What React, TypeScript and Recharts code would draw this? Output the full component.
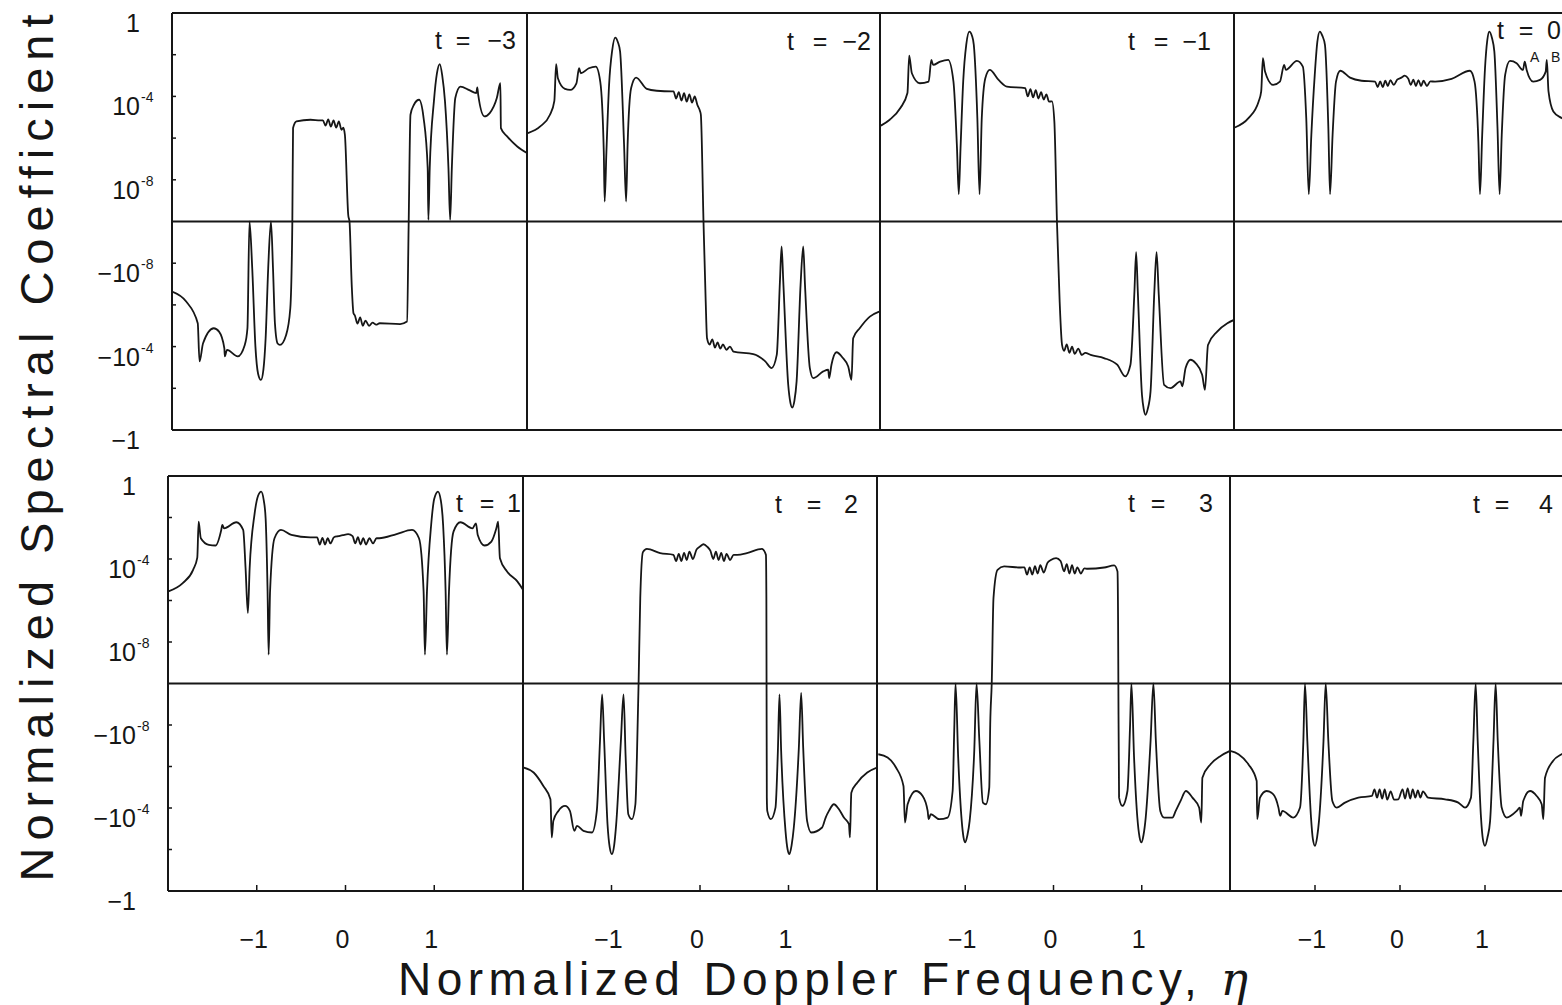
import React from "react";
import { Line, LineChart, ReferenceLine, XAxis, YAxis } from "recharts";

// y is a signed log scale: s = sign(c) * (10 + log10|c|), so s = ±10 is ±1, ±6 is ±1e-4,
// ±2 is ±1e-8 and the centre line (s = 0) is |c| <= 1e-10.
const INK = "#161616";
const FONT = "'Liberation Sans Narrow', 'Liberation Sans', Arial, sans-serif";

const T_M3 = [
  [-2.0, -3.36], [-1.84, -3.84], [-1.71, -4.88], [-1.69, -6.71], [-1.65, -5.84], [-1.53, -5.12], [-1.47, -5.28],
  [-1.41, -6.08], [-1.405, -6.47], [-1.38, -6.16], [-1.26, -6.47], [-1.18, -5.92], [-1.15, -5.12], [-1.127, 0],
  [-1.096, -2.24], [-1.06, -6.0], [-1.03, -7.3], [-0.998, -7.6], [-0.97, -7.1], [-0.945, -5.6], [-0.916, -2.24],
  [-0.885, 0], [-0.862, -2.24], [-0.84, -4.9], [-0.81, -5.85], [-0.784, -5.92], [-0.714, -5.44], [-0.667, -4.16],
  [-0.644, 0], [-0.636, 4.48], [-0.598, 4.8], [-0.44, 4.88], [-0.33, 4.85], [-0.3, 4.85], [-0.27, 4.6], [-0.24, 4.9],
  [-0.21, 4.55], [-0.18, 4.85], [-0.15, 4.5], [-0.12, 4.8], [-0.09, 4.4], [-0.07, 4.5], [-0.052, 4.16],
  [-0.014, 0.3], [0, 0], [0.025, -3.04], [0.045, -4.4], [0.06, -4.5], [0.09, -4.9], [0.12, -4.6], [0.15, -5.0],
  [0.18, -4.75], [0.22, -5.0], [0.26, -4.85], [0.3, -4.95], [0.34, -4.88], [0.57, -4.92], [0.648, -4.8],
  [0.667, 0], [0.687, 5.12], [0.726, 5.6], [0.784, 5.84], [0.835, 4.96], [0.881, 2.56], [0.889, 0.08], [0.904, 2.56],
  [0.951, 5.76], [0.985, 7.1], [1.017, 7.55], [1.045, 7.0], [1.076, 5.76], [1.115, 2.56], [1.134, 0.08],
  [1.153, 2.56], [1.192, 5.92], [1.25, 6.47], [1.35, 6.3], [1.428, 6.16], [1.44, 6.43], [1.45, 6.08], [1.52, 5.04],
  [1.58, 5.2], [1.66, 5.92], [1.7, 6.63], [1.706, 4.48], [1.776, 4.08], [1.89, 3.6], [2.0, 3.28],
];

const T_M2 = [
  [-1.99, 4.24], [-1.85, 4.56], [-1.74, 5.12], [-1.69, 5.79], [-1.67, 7.55], [-1.65, 6.87], [-1.57, 6.36],
  [-1.51, 6.31], [-1.44, 6.63], [-1.41, 7.35], [-1.39, 7.11], [-1.3, 7.35], [-1.22, 7.43], [-1.17, 6.71],
  [-1.13, 3.36], [-1.12, 0.96], [-1.1, 3.36], [-1.07, 6.55], [-1.035, 8.2], [-1.0, 8.82], [-0.97, 8.6],
  [-0.945, 8.15], [-0.9, 3.68], [-0.877, 0.96], [-0.86, 3.68], [-0.82, 6.4], [-0.764, 6.9], [-0.643, 6.36],
  [-0.53, 6.27], [-0.36, 6.24], [-0.34, 6.24], [-0.31, 5.9], [-0.28, 6.2], [-0.25, 5.8], [-0.22, 6.15],
  [-0.19, 5.75], [-0.16, 6.1], [-0.13, 5.7], [-0.1, 6.0], [-0.07, 5.6], [-0.04, 5.3], [-0.03, 5.12], [0, 0],
  [0.025, -3.84], [0.04, -5.6], [0.07, -5.9], [0.1, -5.65], [0.13, -6.05], [0.16, -5.8], [0.19, -6.1], [0.22, -5.9],
  [0.26, -6.15], [0.3, -6.0], [0.34, -6.24], [0.564, -6.36], [0.7, -6.71], [0.772, -7.03], [0.83, -6.4],
  [0.866, -2.88], [0.885, -1.2], [0.904, -2.88], [0.96, -7.83], [0.985, -8.7], [1.005, -8.92], [1.03, -8.6],
  [1.055, -7.67], [1.1, -3.04], [1.13, -1.2], [1.15, -3.04], [1.205, -7.03], [1.243, -7.51], [1.357, -7.19],
  [1.413, -7.11], [1.424, -7.51], [1.45, -6.87], [1.507, -6.27], [1.58, -6.55], [1.64, -6.95], [1.677, -7.59],
  [1.696, -5.6], [1.77, -5.12], [1.885, -4.56], [1.99, -4.32],
];

const T_M1 = [
  [-1.99, 4.6], [-1.89, 4.88], [-1.77, 5.44], [-1.69, 6.16], [-1.67, 7.96], [-1.64, 7.11], [-1.55, 6.63],
  [-1.45, 6.71], [-1.42, 7.75], [-1.4, 7.51], [-1.32, 7.67], [-1.23, 7.75], [-1.17, 6.71], [-1.13, 3.52],
  [-1.11, 1.31], [-1.09, 3.52], [-1.06, 6.71], [-1.025, 8.5], [-0.99, 9.11], [-0.96, 8.9], [-0.94, 8.47],
  [-0.9, 4.96], [-0.875, 1.31], [-0.85, 4.96], [-0.81, 6.87], [-0.76, 7.27], [-0.66, 6.79], [-0.566, 6.47],
  [-0.36, 6.4], [-0.33, 6.0], [-0.3, 6.35], [-0.27, 5.95], [-0.24, 6.3], [-0.21, 5.9], [-0.18, 6.2], [-0.15, 5.85],
  [-0.12, 6.1], [-0.09, 5.75], [-0.057, 5.76], [-0.03, 4.8], [0, -0.08], [0.03, -3.84], [0.057, -5.92], [0.08, -6.2],
  [0.11, -5.9], [0.14, -6.3], [0.17, -6.0], [0.2, -6.35], [0.24, -6.1], [0.28, -6.4], [0.32, -6.3], [0.38, -6.4],
  [0.53, -6.55], [0.68, -6.87], [0.77, -7.43], [0.83, -6.87], [0.875, -3.36], [0.894, -1.47], [0.913, -3.36],
  [0.96, -8.31], [0.98, -9.0], [1.0, -9.27], [1.025, -9.0], [1.057, -8.15], [1.1, -3.36], [1.125, -1.47],
  [1.15, -3.52], [1.21, -7.83], [1.283, -7.99], [1.396, -7.67], [1.415, -7.91], [1.453, -7.03], [1.51, -6.63],
  [1.566, -6.79], [1.64, -7.35], [1.672, -8.07], [1.706, -5.92], [1.81, -5.28], [1.925, -4.88], [2.0, -4.72],
];

const T_0 = [
  [-1.99, 4.51], [-1.83, 4.96], [-1.71, 5.76], [-1.68, 6.24], [-1.66, 7.83], [-1.635, 7.19], [-1.54, 6.55],
  [-1.46, 6.71], [-1.41, 7.51], [-1.39, 7.27], [-1.26, 7.7], [-1.19, 7.43], [-1.15, 4.96], [-1.12, 1.31],
  [-1.09, 4.16], [-1.05, 7.03], [-1.02, 8.6], [-0.99, 9.11], [-0.96, 8.9], [-0.93, 8.47], [-0.89, 4.48],
  [-0.87, 1.31], [-0.84, 4.16], [-0.8, 6.71], [-0.75, 7.23], [-0.635, 6.9], [-0.5, 6.75], [-0.34, 6.71],
  [-0.31, 6.45], [-0.28, 6.72], [-0.25, 6.45], [-0.22, 6.75], [-0.19, 6.5], [-0.16, 6.78], [-0.12, 6.55],
  [-0.08, 6.8], [-0.03, 6.9], [0.01, 7.0], [0.05, 6.85], [0.08, 6.55], [0.11, 6.8], [0.14, 6.5], [0.17, 6.78],
  [0.2, 6.5], [0.23, 6.75], [0.27, 6.5], [0.31, 6.72], [0.365, 6.71], [0.56, 6.84], [0.776, 7.23], [0.83, 6.71],
  [0.875, 3.84], [0.894, 1.31], [0.92, 4.16], [0.953, 7.35], [0.98, 8.7], [1.004, 9.11], [1.035, 8.8],
  [1.063, 8.15], [1.1, 4.48], [1.125, 1.31], [1.15, 4.16], [1.19, 7.03], [1.247, 7.7], [1.325, 7.59], [1.4, 7.27],
  [1.42, 7.67], [1.443, 7.27], [1.52, 6.71], [1.6, 6.79], [1.667, 7.19], [1.68, 7.75], [1.7, 6.24], [1.757, 5.28],
  [1.855, 4.96], [1.93, 4.8], [2.0, 4.64],
];

const T_1 = [
  [-1.995, 4.44], [-1.834, 4.84], [-1.717, 5.48], [-1.67, 6.07], [-1.655, 7.8], [-1.63, 7.0], [-1.54, 6.68],
  [-1.465, 6.65], [-1.4, 7.4], [-1.388, 7.64], [-1.368, 7.48], [-1.23, 7.77], [-1.153, 7.4], [-1.126, 5.56],
  [-1.1, 3.4], [-1.08, 5.56], [-1.026, 8.13], [-0.985, 9.05], [-0.95, 9.25], [-0.92, 8.8], [-0.9, 7.96],
  [-0.878, 4.44], [-0.866, 1.39], [-0.85, 4.44], [-0.8, 7.0], [-0.727, 7.4], [-0.61, 7.16], [-0.396, 7.04],
  [-0.32, 7.04], [-0.29, 6.7], [-0.26, 7.02], [-0.23, 6.7], [-0.2, 7.0], [-0.17, 6.75], [-0.13, 7.05], [-0.08, 7.1],
  [-0.03, 7.15], [0.03, 7.2], [0.08, 7.1], [0.11, 6.75], [0.14, 7.05], [0.17, 6.7], [0.2, 7.0], [0.23, 6.7],
  [0.27, 7.0], [0.31, 6.75], [0.35, 7.0], [0.38, 7.0], [0.575, 7.2], [0.75, 7.4], [0.828, 7.0], [0.88, 4.44],
  [0.895, 1.39], [0.918, 4.44], [0.965, 7.64], [1.0, 8.9], [1.042, 9.25], [1.075, 8.8], [1.1, 7.64], [1.128, 4.44],
  [1.143, 1.39], [1.166, 4.44], [1.217, 7.32], [1.295, 7.77], [1.43, 7.48], [1.47, 7.72], [1.49, 7.16],
  [1.567, 6.65], [1.644, 6.84], [1.7, 7.48], [1.72, 7.8], [1.74, 6.04], [1.82, 5.4], [1.936, 4.92], [2.0, 4.52],
];

const T_2 = [
  [-1.99, -4.05], [-1.88, -4.29], [-1.77, -4.94], [-1.69, -5.58], [-1.675, -7.42], [-1.657, -6.62], [-1.6, -6.14],
  [-1.525, -5.9], [-1.47, -6.14], [-1.42, -7.1], [-1.39, -6.86], [-1.317, -7.1], [-1.22, -7.18], [-1.166, -6.14],
  [-1.13, -2.77], [-1.106, -0.53], [-1.083, -2.77], [-1.045, -6.78], [-1.02, -7.9], [-0.996, -8.22],
  [-0.97, -7.8], [-0.947, -6.78], [-0.894, -2.77], [-0.864, -0.53], [-0.84, -3.57], [-0.81, -6.3], [-0.77, -6.54],
  [-0.73, -5.82], [-0.713, -3.57], [-0.694, 0], [-0.675, 4.12], [-0.645, 6.33], [-0.6, 6.49], [-0.45, 6.28],
  [-0.3, 6.2], [-0.27, 5.9], [-0.24, 6.25], [-0.21, 5.9], [-0.18, 6.3], [-0.15, 5.95], [-0.12, 6.35], [-0.08, 6.0],
  [-0.04, 6.45], [0.0, 6.6], [0.04, 6.71], [0.08, 6.6], [0.117, 6.4], [0.15, 6.0], [0.18, 6.35], [0.21, 5.95],
  [0.24, 6.3], [0.27, 5.9], [0.3, 6.25], [0.34, 5.95], [0.38, 6.2], [0.42, 6.2], [0.53, 6.28], [0.7, 6.49],
  [0.745, 6.2], [0.75, 4.12], [0.752, 0], [0.755, -5.5], [0.76, -6.14], [0.8, -6.54], [0.853, -5.98],
  [0.88, -3.25], [0.898, -0.53], [0.917, -3.25], [0.966, -7.1], [0.99, -8.0], [1.01, -8.22], [1.035, -7.8],
  [1.06, -6.94], [1.117, -3.09], [1.143, -0.45], [1.166, -3.09], [1.21, -6.62], [1.257, -7.18], [1.38, -6.94],
  [1.42, -6.46], [1.457, -6.14], [1.513, -5.82], [1.57, -6.06], [1.626, -6.46], [1.683, -6.78], [1.694, -7.42],
  [1.71, -5.26], [1.777, -4.78], [1.89, -4.29], [2.0, -4.05],
];

const T_3 = [
  [-1.985, -3.41], [-1.88, -3.57], [-1.785, -4.05], [-1.7, -4.94], [-1.683, -6.7], [-1.653, -5.82], [-1.56, -5.18],
  [-1.483, -5.42], [-1.426, -6.14], [-1.415, -6.54], [-1.39, -6.3], [-1.294, -6.54], [-1.2, -6.46], [-1.143, -5.18],
  [-1.125, -2.29], [-1.11, 0], [-1.08, -3.57], [-1.04, -6.62], [-1.02, -7.4], [-1.0, -7.66], [-0.975, -7.3],
  [-0.95, -6.62], [-0.898, -3.25], [-0.872, 0], [-0.84, -2.77], [-0.8, -5.74], [-0.766, -5.82], [-0.728, -5.02],
  [-0.717, -1.97], [-0.7, 0], [-0.68, 4.12], [-0.634, 5.48], [-0.56, 5.64], [-0.37, 5.59], [-0.33, 5.6],
  [-0.3, 5.25], [-0.27, 5.6], [-0.24, 5.25], [-0.21, 5.65], [-0.18, 5.3], [-0.15, 5.7], [-0.11, 5.35], [-0.07, 5.8],
  [-0.03, 5.95], [0.03, 6.04], [0.08, 5.9], [0.12, 5.4], [0.15, 5.75], [0.18, 5.3], [0.21, 5.7], [0.24, 5.3],
  [0.27, 5.6], [0.31, 5.3], [0.35, 5.55], [0.385, 5.53], [0.574, 5.59], [0.687, 5.69], [0.725, 5.4], [0.732, 2.84],
  [0.735, 0], [0.743, -5.5], [0.78, -5.9], [0.838, -5.18], [0.868, -1.97], [0.883, 0], [0.913, -3.57],
  [0.95, -6.46], [0.975, -7.4], [0.996, -7.66], [1.02, -7.3], [1.045, -6.46], [1.1, -2.77], [1.132, 0],
  [1.16, -2.77], [1.21, -6.14], [1.253, -6.46], [1.347, -6.46], [1.385, -6.14], [1.44, -5.66], [1.5, -5.18],
  [1.574, -5.5], [1.65, -5.98], [1.675, -6.7], [1.687, -4.54], [1.78, -3.89], [1.894, -3.49], [2.0, -3.25],
];

const T_4 = [
  [-2.0, -3.25], [-1.9, -3.41], [-1.784, -3.89], [-1.686, -4.7], [-1.68, -6.54], [-1.647, -5.5], [-1.57, -5.18],
  [-1.49, -5.34], [-1.43, -5.98], [-1.41, -6.38], [-1.384, -6.14], [-1.255, -6.46], [-1.176, -5.98],
  [-1.137, -2.77], [-1.118, 0], [-1.09, -2.77], [-1.047, -6.46], [-1.025, -7.5], [-1.0, -7.82], [-0.975, -7.4],
  [-0.953, -6.62], [-0.9, -2.77], [-0.874, 0], [-0.843, -2.77], [-0.796, -5.66], [-0.745, -5.98], [-0.647, -5.74],
  [-0.49, -5.5], [-0.33, -5.42], [-0.3, -5.1], [-0.27, -5.5], [-0.24, -5.1], [-0.21, -5.55], [-0.18, -5.1],
  [-0.15, -5.6], [-0.11, -5.2], [-0.07, -5.6], [-0.02, -5.58], [0.03, -5.1], [0.06, -5.55], [0.09, -5.05],
  [0.12, -5.55], [0.15, -5.1], [0.18, -5.5], [0.21, -5.15], [0.24, -5.5], [0.27, -5.2], [0.33, -5.5], [0.53, -5.58],
  [0.686, -5.74], [0.765, -5.98], [0.835, -5.5], [0.863, -2.77], [0.89, 0], [0.914, -2.77], [0.953, -6.46],
  [0.975, -7.5], [1.0, -7.82], [1.03, -7.4], [1.06, -6.62], [1.1, -2.77], [1.125, 0], [1.15, -2.77], [1.196, -5.98],
  [1.255, -6.46], [1.373, -6.14], [1.41, -5.98], [1.424, -6.38], [1.45, -5.66], [1.53, -5.18], [1.608, -5.42],
  [1.667, -5.82], [1.686, -6.54], [1.706, -4.54], [1.8, -3.73], [1.9, -3.41], [2.0, -3.25],
];

const X_TICKS = [-1, 0, 1];
const X_TICK_LABELS = ["−1", "0", "1"];
const Y_TICKS = [10, 8, 6, 4, 2, -2, -4, -6, -8, -10];
const Y_LABEL_AT = [10, 6, 2, -2, -6, -10];
const Y_LABEL_BASE = ["1", "10", "10", "−10", "−10", "−1"];
const Y_LABEL_EXP = ["", "-4", "-8", "-8", "-4", ""];

const ROWS = [
  { top: 13, h: 417 },
  { top: 476, h: 415 },
];
const PAD_TOP = 12;

// label: t value; lx = "t" start, ex = "=" centre, vx = value end, ly = baseline
const PANELS = [
  { t: "−3", pts: T_M3, row: 0, x0: 172, x1: 527, lx: 435, ex: 463, vx: 516, ly: 49 },
  { t: "−2", pts: T_M2, row: 0, x0: 527, x1: 880, lx: 787, ex: 820, vx: 871, ly: 50 },
  { t: "−1", pts: T_M1, row: 0, x0: 880, x1: 1234, lx: 1128, ex: 1161, vx: 1211, ly: 50 },
  { t: "0", pts: T_0, row: 0, x0: 1234, x1: 1574, lx: 1497, ex: 1526, vx: 1561, ly: 39 },
  { t: "1", pts: T_1, row: 1, x0: 168, x1: 523, lx: 456, ex: 487, vx: 521, ly: 512 },
  { t: "2", pts: T_2, row: 1, x0: 523, x1: 877, lx: 775, ex: 814, vx: 858, ly: 513 },
  { t: "3", pts: T_3, row: 1, x0: 877, x1: 1230, lx: 1128, ex: 1158, vx: 1213, ly: 512 },
  { t: "4", pts: T_4, row: 1, x0: 1230, x1: 1570, lx: 1473, ex: 1502, vx: 1553, ly: 513 },
];

function YTick({ y, payload, right }: any) {
  const i = Y_LABEL_AT.indexOf(payload.value);
  if (i < 0) return <g />;
  return (
    <g fontFamily={FONT} fill={INK}>
      <text x={right} y={y + 19} textAnchor="end" fontSize={25}>{Y_LABEL_BASE[i]}</text>
      {Y_LABEL_EXP[i] && (
        <text x={right + 1} y={y + 6} fontSize={14}>{Y_LABEL_EXP[i]}</text>
      )}
    </g>
  );
}

function XTick({ x, payload, base }: any) {
  const i = X_TICKS.indexOf(payload.value);
  return (
    <text x={x - 3} y={base} textAnchor="middle" fontSize={25} fontFamily={FONT} fill={INK}>
      {X_TICK_LABELS[i]}
    </text>
  );
}

function Panel({ p }: { p: (typeof PANELS)[number] }) {
  const row = ROWS[p.row];
  const first = p.x0 < 200;
  const bottom = p.row === 1;
  const left = first ? 0 : p.x0 - 2;
  const yW = first ? p.x0 : 2;
  const xH = bottom ? 72 : 26;
  const width = p.x1 - left + 2;
  const height = row.h + PAD_TOP + xH;
  const data = p.pts.map(([eta, s]) => ({ eta, s }));
  const line = { stroke: INK, strokeWidth: 2 };
  return (
    <div style={{ position: "absolute", left, top: row.top - PAD_TOP }}>
      <LineChart width={width} height={height} data={data} margin={{ top: PAD_TOP, right: 2, bottom: 0, left: 0 }}>
        <XAxis
          xAxisId="x"
          dataKey="eta"
          type="number"
          domain={[-2, 2]}
          ticks={X_TICKS}
          interval={0}
          allowDataOverflow
          height={xH}
          tickSize={-6}
          axisLine={line}
          tickLine={{ stroke: INK, strokeWidth: 1.5 }}
          tick={bottom ? (props: any) => <XTick {...props} base={PAD_TOP + row.h + 57} /> : false}
        />
        <YAxis
          yAxisId="y"
          type="number"
          domain={[-10, 10]}
          ticks={Y_TICKS}
          interval={0}
          allowDataOverflow
          width={yW}
          tickSize={-4}
          axisLine={line}
          tickLine={{ stroke: INK, strokeWidth: 1.5 }}
          tick={first ? (props: any) => <YTick {...props} right={p.x0 - 32} /> : false}
        />
        <ReferenceLine xAxisId="x" yAxisId="y" y={10} {...line} />
        <ReferenceLine xAxisId="x" yAxisId="y" x={2} {...line} />
        <ReferenceLine xAxisId="x" yAxisId="y" y={0} {...line} />
        <Line
          xAxisId="x"
          yAxisId="y"
          dataKey="s"
          type="monotoneX"
          stroke={INK}
          strokeWidth={1.8}
          dot={false}
          isAnimationActive={false}
        />
      </LineChart>
    </div>
  );
}

export default function App() {
  return (
    <div style={{ position: "relative", width: 1562, height: 1005, overflow: "hidden", background: "#fff" }}>
      <style>{"body{margin:0;background:#fff}"}</style>
      {PANELS.map((p) => (
        <Panel key={p.t} p={p} />
      ))}
      <svg
        width={1562}
        height={1005}
        style={{ position: "absolute", left: 0, top: 0, pointerEvents: "none" }}
        fontFamily={FONT}
        fill={INK}
      >
        {PANELS.map((p) => (
          <g key={p.t} fontSize={25}>
            <text x={p.lx} y={p.ly}>t</text>
            <text x={p.ex} y={p.ly} textAnchor="middle">=</text>
            <text x={p.vx} y={p.ly} textAnchor="end">{p.t}</text>
          </g>
        ))}
        <text x={1530} y={62} fontSize={14}>A</text>
        <text x={1551} y={62} fontSize={14}>B</text>
        <text
          transform="translate(53,448) rotate(-90)"
          textAnchor="middle"
          fontSize={47}
          textLength={867}
          lengthAdjust="spacing"
        >
          Normalized Spectral Coefficient
        </text>
        <text x={398} y={995} fontSize={46} textLength={850} lengthAdjust="spacing">
          Normalized Doppler Frequency,{" "}
          <tspan fontFamily="'DejaVu Serif', serif" fontStyle="italic">η</tspan>
        </text>
      </svg>
    </div>
  );
}
